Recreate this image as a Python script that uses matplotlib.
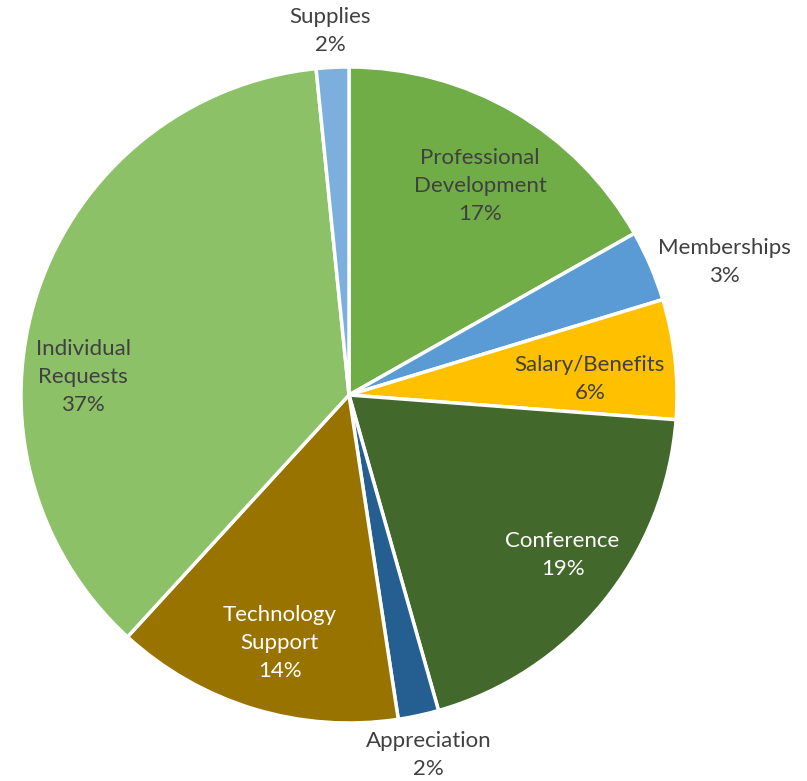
import matplotlib
matplotlib.use("Agg")
import matplotlib.pyplot as plt
import numpy as np

categories = ["Professional\nDevelopment", "Memberships", "Salary/Benefits", "Conference",
              "Appreciation", "Technology\nSupport", "Individual\nRequests", "Supplies"]
values = [16.8, 3.5, 5.9, 19.4, 2.0, 14.2, 36.6, 1.6]
percent_labels = ["17%", "3%", "6%", "19%", "2%", "14%", "37%", "2%"]

colors = ["#70AD47", "#5B9BD5", "#FFC000", "#43682B", "#255E91", "#997300", "#8CC168", "#7CAFDD"]
text_colors = ["#404040", "#404040", "#404040", "#FFFFFF", "#404040", "#FFFFFF", "#404040", "#404040"]
# label positions in units of radius (layout)
label_xy = [(0.40, 0.636), (1.144, 0.404), (0.734, 0.049), (0.651, -0.489),
            (0.242, -1.098), (-0.211, -0.755), (-0.810, 0.055), (-0.058, 1.110)]

fig = plt.figure(figsize=(8.07, 7.81), dpi=100)
cx, cy, r = 349 / 807, (781 - 395) / 781, 328
ax = fig.add_axes([cx - r / 807, cy - r / 781, 2 * r / 807, 2 * r / 781])
ax.pie(values, colors=colors, startangle=90, counterclock=False,
       wedgeprops=dict(edgecolor="white", linewidth=2.5))
ax.set_xlim(-1, 1)
ax.set_ylim(-1, 1)
ax.set_aspect("equal")
ax.axis("off")

for cat, pct, (x, y), tc in zip(categories, percent_labels, label_xy, text_colors):
    ax.text(x, y, f"{cat}\n{pct}", ha="center", va="center", color=tc,
            fontsize=16, family="Lato", linespacing=1.5, clip_on=False)

fig.savefig("out.png", dpi=100)
